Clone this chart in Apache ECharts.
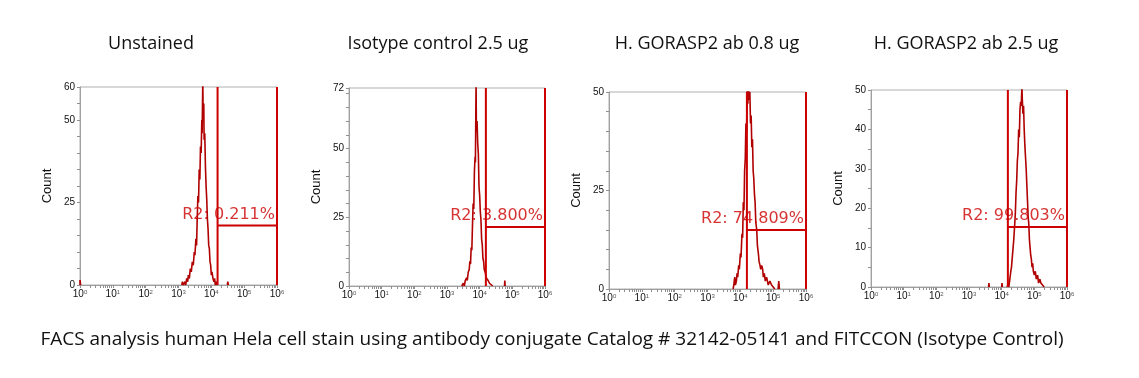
<!DOCTYPE html>
<html>
<head>
<meta charset="utf-8">
<script src="https://cdn.jsdelivr.net/npm/echarts@6/dist/echarts.min.js"></script>
<style>html,body{margin:0;padding:0;background:#fff}#c{width:1139px;height:378px}</style>
</head>
<body>
<div id="c"></div>
<script>
// ---- data (x in log10 units of fluorescence) ----
const panelTitles = ['Unstained', 'Isotype control 2.5 ug', 'H. GORASP2 ab 0.8 ug', 'H. GORASP2 ab 2.5 ug'];
const caption = 'FACS analysis human Hela cell stain using antibody conjugate Catalog # 32142-05141 and FITCCON (Isotype Control)';
const xTickLabels = [0, 1, 2, 3, 4, 5, 6];
const yMax = [60, 72, 50, 50];
const yLabels = [[0, 25, 50, 60], [0, 25, 50, 72], [0, 25, 50], [0, 10, 20, 30, 40, 50]];
const gateLeft = [4.19, 4.19, 4.2, 4.19];
const gateRight = [6, 6, 6, 6];
const gateY = [18, 21.5, 15, 15.2];
const gateText = ['R2: 0.211%', 'R2: 3.800%', 'R2: 74.809%', 'R2: 99.803%'];

const histUnstained = [[0,0],[0,1.5],[0.02,0],[0.03,null],
 [3.10,0],[3.12,1],[3.15,0],[3.2,1],[3.22,0],[3.25,2],[3.28,1],[3.3,3],[3.33,2],[3.36,5],[3.39,4],[3.42,7],[3.45,6],[3.48,10],[3.5,9],[3.53,14],[3.55,12],[3.57,20],[3.59,27],[3.61,25],[3.63,35],[3.65,32],[3.67,42],[3.69,40],[3.71,50],[3.72,46],[3.74,62],[3.75,52],[3.77,55],[3.78,44],[3.8,46],[3.82,36],[3.84,30],[3.86,26],[3.88,20],[3.9,17],[3.92,12],[3.94,11],[3.96,7],[3.98,6],[4.0,3],[4.02,4],[4.05,2],[4.08,1],[4.1,2],[4.12,0],[4.15,1],[4.17,0],[4.18,null],
 [4.49,0],[4.5,1],[4.52,0]];
const histIsotype = [[3.45,0],[3.5,1],[3.53,0],[3.56,2],[3.6,3],[3.62,2],[3.65,5],[3.68,6],[3.7,9],[3.72,8],[3.74,14],[3.76,13],[3.78,22],[3.8,30],[3.82,28],[3.84,42],[3.86,47],[3.87,45],[3.89,74],[3.9,56],[3.92,60],[3.94,52],[3.96,48],[3.98,36],[4.0,33],[4.02,27],[4.04,24],[4.06,17],[4.08,15],[4.1,10],[4.12,9],[4.14,6],[4.17,5],[4.2,3],[4.23,3],[4.26,2],[4.3,1],[4.35,1],[4.4,0],[4.41,null],
 [4.76,0],[4.77,2],[4.78,0]];
const histAb08 = [[3.78,0],[3.8,1],[3.83,3],[3.85,1],[3.88,2],[3.9,4],[3.92,3],[3.95,6],[3.97,5],[4.0,9],[4.02,8],[4.05,14],[4.07,13],[4.09,22],[4.11,20],[4.13,30],[4.15,33],[4.17,42],[4.19,40],[4.21,52],[4.23,47],[4.25,52],[4.27,48],[4.29,50],[4.31,42],[4.33,44],[4.35,36],[4.37,38],[4.39,30],[4.41,28],[4.43,24],[4.45,22],[4.47,17],[4.5,15],[4.52,11],[4.55,9],[4.57,7],[4.6,6],[4.62,5],[4.65,6],[4.68,5],[4.7,3],[4.73,4],[4.76,2],[4.8,3],[4.85,1],[4.9,2],[4.95,1],[5.0,1],[5.05,0],[5.06,null],
 [5.15,0],[5.17,2],[5.19,0]];
const histAb25 = [[3.6,0],[3.61,1],[3.62,0],[3.63,null],[4.0,0],[4.01,1],[4.02,0],[4.03,null],
 [4.17,0],[4.2,1],[4.22,0],[4.25,2],[4.28,4],[4.3,5],[4.32,7],[4.35,10],[4.37,12],[4.4,16],[4.42,19],[4.44,24],[4.46,27],[4.48,32],[4.5,34],[4.52,40],[4.54,38],[4.56,45],[4.58,47],[4.6,46],[4.62,51],[4.63,48],[4.65,44],[4.67,46],[4.69,40],[4.71,36],[4.73,33],[4.75,30],[4.77,26],[4.79,22],[4.81,18],[4.83,16],[4.85,12],[4.87,10],[4.89,8],[4.91,7],[4.93,5],[4.95,6],[4.97,4],[5.0,3],[5.03,4],[5.06,2],[5.1,3],[5.13,1],[5.17,2],[5.2,1],[5.25,1],[5.3,0]];
const histograms = [histUnstained, histIsotype, histAb08, histAb25];

// ---- layout ----
const grids = [
  {left: 80, top: 87, width: 197, height: 198},
  {left: 349, top: 88, width: 196, height: 198},
  {left: 609, top: 92, width: 197, height: 197},
  {left: 871, top: 90, width: 196, height: 197}
];
const titleCenters = [151, 438, 707, 966];

const minorTicks = [];
for (let d = 0; d < 6; d++) for (let k = 1; k <= 9; k++) minorTicks.push(d + Math.log10(k));
minorTicks.push(6);

const option = {
  animation: false,
  backgroundColor: '#fff',
  title: panelTitles.map((t, i) => ({
    text: t, left: titleCenters[i], top: 35, textAlign: 'center', padding: 0,
    textStyle: {fontFamily: 'Open Sans', fontSize: 18, fontWeight: 'normal', color: '#111'}
  })).concat([{
    text: caption, left: 552, top: 330, textAlign: 'center', padding: 0,
    textStyle: {fontFamily: 'Open Sans', fontSize: 19, fontWeight: 'normal', color: '#111'}
  }]),
  grid: grids.map(g => Object.assign({show: true, borderColor: '#b0b0b0', borderWidth: 1, backgroundColor: 'transparent'}, g)),
  xAxis: [],
  yAxis: [],
  series: []
};

for (let i = 0; i < 4; i++) {
  option.xAxis.push({
    type: 'value', gridIndex: i, min: 0, max: 6, interval: 1,
    axisLine: {show: true, lineStyle: {color: '#a0a0a0', width: 1}},
    axisTick: {show: true, customValues: minorTicks, length: 3, lineStyle: {color: '#909090'}},
    splitLine: {show: false},
    axisLabel: {
      customValues: xTickLabels, margin: 4, color: '#111',
      fontFamily: 'Liberation Sans', fontSize: 10,
      formatter: v => '10{s|' + v + '}',
      rich: {s: {fontSize: 6, verticalAlign: 'top', color: '#555', padding: [0, 0, 5, 0]}}
    }
  });
  const yt = [];
  for (let v = 0; v <= yMax[i]; v += 5) yt.push(v);
  if (yt[yt.length - 1] !== yMax[i]) yt.push(yMax[i]);
  option.yAxis.push({
    type: 'value', gridIndex: i, min: 0, max: yMax[i], interval: 5,
    name: 'Count', nameLocation: 'middle', nameRotate: 90, nameGap: 26,
    nameTextStyle: {fontFamily: 'Liberation Sans', fontSize: 13, color: '#111'},
    axisLine: {show: true, lineStyle: {color: '#a0a0a0', width: 1}},
    axisTick: {show: true, customValues: yt, length: 3, lineStyle: {color: '#909090'}},
    splitLine: {show: false},
    axisLabel: {customValues: yLabels[i], margin: 5, color: '#111', fontFamily: 'Liberation Sans', fontSize: 10}
  });
  option.series.push({
    type: 'line', xAxisIndex: i, yAxisIndex: i, data: histograms[i],
    showSymbol: false, connectNulls: false, clip: true,
    lineStyle: {color: '#b00000', width: 1.6}, z: 2
  });
  const gl = gateLeft[i], gr = gateRight[i], gy = gateY[i], m = yMax[i];
  option.series.push({
    type: 'line', xAxisIndex: i, yAxisIndex: i, clip: false,
    data: [[gl, 0], [gl, m], [gl, null], [gl, gy], [gr, gy], [gr, null], [gr, 0], [gr, m]],
    showSymbol: false, connectNulls: false,
    lineStyle: {color: '#cc0000', width: 2}, z: 3
  });
  option.series.push({
    type: 'scatter', xAxisIndex: i, yAxisIndex: i, symbolSize: 0,
    data: [[gr, gy]], z: 4,
    label: {show: true, formatter: gateText[i], position: [0, 0], align: 'right', verticalAlign: 'bottom',
      offset: [-2, -3], color: '#cc0000', fontFamily: 'DejaVu Sans', fontSize: 16}
  });
}

const chart = echarts.init(document.getElementById('c'), null, {renderer: 'canvas'});
chart.setOption(option);
</script>
</body>
</html>
